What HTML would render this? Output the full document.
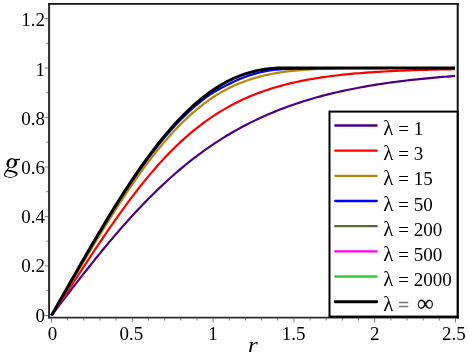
<!DOCTYPE html>
<html><head><meta charset="utf-8"><title>plot</title>
<style>
html,body{margin:0;padding:0;background:#fff;}
body{width:469px;height:357px;overflow:hidden;}
svg{display:block;will-change:transform;}
text{font-family:"Liberation Serif",serif;font-size:19px;fill:#000;}
</style></head><body>
<svg width="469" height="357" viewBox="0 0 469 357" role="img" aria-label="Plot of g versus r for several values of lambda">
<rect width="469" height="357" fill="#fff"/>
<g>
<path d="M51.50 315.40L54.04 312.08L56.58 308.76L59.11 305.44L61.65 302.13L64.19 298.82L66.73 295.51L69.26 292.22L71.80 288.93L74.34 285.65L76.88 282.39L79.42 279.13L81.95 275.89L84.49 272.66L87.03 269.45L89.57 266.25L92.10 263.07L94.64 259.91L97.18 256.77L99.72 253.65L102.25 250.55L104.79 247.48L107.33 244.42L109.87 241.39L112.41 238.39L114.94 235.41L117.48 232.45L120.02 229.53L122.56 226.63L125.09 223.76L127.63 220.92L130.17 218.11L132.71 215.33L135.25 212.58L137.78 209.86L140.32 207.17L142.86 204.51L145.40 201.89L147.93 199.30L150.47 196.74L153.01 194.22L155.55 191.73L158.08 189.27L160.62 186.85L163.16 184.46L165.70 182.11L168.24 179.79L170.77 177.50L173.31 175.25L175.85 173.03L178.39 170.85L180.92 168.71L183.46 166.59L186.00 164.51L188.54 162.47L191.08 160.46L193.61 158.49L196.15 156.54L198.69 154.64L201.23 152.76L203.76 150.92L206.30 149.11L208.84 147.34L211.38 145.59L213.92 143.88L216.45 142.20L218.99 140.56L221.53 138.94L224.07 137.36L226.60 135.80L229.14 134.28L231.68 132.79L234.22 131.32L236.75 129.89L239.29 128.48L241.83 127.10L244.37 125.75L246.91 124.43L249.44 123.14L251.98 121.87L254.52 120.63L257.06 119.41L259.59 118.22L262.13 117.06L264.67 115.92L267.21 114.81L269.75 113.72L272.28 112.65L274.82 111.61L277.36 110.58L279.90 109.59L282.43 108.61L284.97 107.66L287.51 106.72L290.05 105.81L292.58 104.92L295.12 104.05L297.66 103.20L300.20 102.36L302.74 101.55L305.27 100.75L307.81 99.98L310.35 99.22L312.89 98.48L315.42 97.75L317.96 97.05L320.50 96.35L323.04 95.68L325.58 95.02L328.11 94.38L330.65 93.75L333.19 93.13L335.73 92.54L338.26 91.95L340.80 91.38L343.34 90.82L345.88 90.28L348.42 89.74L350.95 89.23L353.49 88.72L356.03 88.22L358.57 87.74L361.10 87.27L363.64 86.81L366.18 86.36L368.72 85.93L371.25 85.50L373.79 85.08L376.33 84.67L378.87 84.28L381.41 83.89L383.94 83.51L386.48 83.14L389.02 82.78L391.56 82.43L394.09 82.09L396.63 81.75L399.17 81.43L401.71 81.11L404.25 80.80L406.78 80.50L409.32 80.20L411.86 79.91L414.40 79.63L416.93 79.36L419.47 79.09L422.01 78.83L424.55 78.57L427.08 78.32L429.62 78.08L432.16 77.84L434.70 77.61L437.24 77.39L439.77 77.17L442.31 76.95L444.85 76.74L447.39 76.54L449.92 76.34L452.46 76.15L455.00 75.96" fill="none" stroke="#4b0082" stroke-width="2.2" stroke-linejoin="round"/>
<path d="M51.50 315.40L54.04 311.63L56.58 307.84L59.11 304.03L61.65 300.21L64.19 296.37L66.73 292.53L69.26 288.68L71.80 284.82L74.34 280.96L76.88 277.09L79.42 273.23L81.95 269.37L84.49 265.52L87.03 261.67L89.57 257.83L92.10 254.00L94.64 250.19L97.18 246.39L99.72 242.61L102.25 238.85L104.79 235.12L107.33 231.41L109.87 227.72L112.41 224.07L114.94 220.44L117.48 216.85L120.02 213.29L122.56 209.77L125.09 206.28L127.63 202.84L130.17 199.43L132.71 196.07L135.25 192.75L137.78 189.48L140.32 186.26L142.86 183.08L145.40 179.95L147.93 176.87L150.47 173.84L153.01 170.86L155.55 167.94L158.08 165.07L160.62 162.25L163.16 159.49L165.70 156.78L168.24 154.12L170.77 151.52L173.31 148.98L175.85 146.49L178.39 144.05L180.92 141.67L183.46 139.35L186.00 137.08L188.54 134.87L191.08 132.71L193.61 130.60L196.15 128.55L198.69 126.55L201.23 124.60L203.76 122.71L206.30 120.86L208.84 119.07L211.38 117.33L213.92 115.63L216.45 113.99L218.99 112.39L221.53 110.84L224.07 109.33L226.60 107.87L229.14 106.46L231.68 105.08L234.22 103.75L236.75 102.47L239.29 101.22L241.83 100.01L244.37 98.84L246.91 97.71L249.44 96.62L251.98 95.56L254.52 94.54L257.06 93.55L259.59 92.60L262.13 91.68L264.67 90.79L267.21 89.93L269.75 89.10L272.28 88.30L274.82 87.53L277.36 86.78L279.90 86.07L282.43 85.37L284.97 84.71L287.51 84.06L290.05 83.44L292.58 82.85L295.12 82.27L297.66 81.72L300.20 81.19L302.74 80.67L305.27 80.18L307.81 79.70L310.35 79.25L312.89 78.81L315.42 78.38L317.96 77.98L320.50 77.59L323.04 77.21L325.58 76.85L328.11 76.50L330.65 76.16L333.19 75.84L335.73 75.53L338.26 75.24L340.80 74.95L343.34 74.68L345.88 74.41L348.42 74.16L350.95 73.92L353.49 73.68L356.03 73.46L358.57 73.25L361.10 73.04L363.64 72.84L366.18 72.65L368.72 72.47L371.25 72.29L373.79 72.12L376.33 71.96L378.87 71.81L381.41 71.66L383.94 71.51L386.48 71.38L389.02 71.24L391.56 71.12L394.09 71.00L396.63 70.88L399.17 70.77L401.71 70.66L404.25 70.56L406.78 70.46L409.32 70.37L411.86 70.27L414.40 70.19L416.93 70.10L419.47 70.02L422.01 69.95L424.55 69.87L427.08 69.80L429.62 69.73L432.16 69.67L434.70 69.61L437.24 69.55L439.77 69.49L442.31 69.43L444.85 69.38L447.39 69.33L449.92 69.28L452.46 69.23L455.00 69.19" fill="none" stroke="#ff0000" stroke-width="2.2" stroke-linejoin="round"/>
<path d="M51.50 315.40L54.04 311.17L56.58 306.93L59.11 302.69L61.65 298.43L64.19 294.17L66.73 289.91L69.26 285.64L71.80 281.37L74.34 277.11L76.88 272.85L79.42 268.59L81.95 264.34L84.49 260.10L87.03 255.87L89.57 251.65L92.10 247.45L94.64 243.26L97.18 239.09L99.72 234.94L102.25 230.82L104.79 226.72L107.33 222.64L109.87 218.60L112.41 214.58L114.94 210.59L117.48 206.64L120.02 202.73L122.56 198.85L125.09 195.02L127.63 191.22L130.17 187.47L132.71 183.76L135.25 180.10L137.78 176.49L140.32 172.93L142.86 169.42L145.40 165.96L147.93 162.56L150.47 159.22L153.01 155.93L155.55 152.71L158.08 149.54L160.62 146.44L163.16 143.40L165.70 140.42L168.24 137.51L170.77 134.66L173.31 131.88L175.85 129.17L178.39 126.53L180.92 123.95L183.46 121.45L186.00 119.01L188.54 116.64L191.08 114.35L193.61 112.12L196.15 109.96L198.69 107.87L201.23 105.85L203.76 103.90L206.30 102.02L208.84 100.21L211.38 98.46L213.92 96.78L216.45 95.17L218.99 93.62L221.53 92.13L224.07 90.71L226.60 89.35L229.14 88.05L231.68 86.80L234.22 85.62L236.75 84.49L239.29 83.42L241.83 82.40L244.37 81.43L246.91 80.52L249.44 79.65L251.98 78.83L254.52 78.05L257.06 77.32L259.59 76.63L262.13 75.99L264.67 75.38L267.21 74.81L269.75 74.27L272.28 73.77L274.82 73.31L277.36 72.87L279.90 72.46L282.43 72.08L284.97 71.73L287.51 71.41L290.05 71.11L292.58 70.83L295.12 70.57L297.66 70.33L300.20 70.11L302.74 69.91L305.27 69.73L307.81 69.56L310.35 69.40L312.89 69.26L315.42 69.13L317.96 69.01L320.50 68.91L323.04 68.81L325.58 68.72L328.11 68.64L330.65 68.57L333.19 68.51L335.73 68.45L338.26 68.40L340.80 68.35L343.34 68.31L345.88 68.27L348.42 68.24L350.95 68.21L353.49 68.18L356.03 68.16L358.57 68.14L361.10 68.12L363.64 68.10L366.18 68.09L368.72 68.08L371.25 68.07L373.79 68.06L376.33 68.05L378.87 68.04L381.41 68.04L383.94 68.03L386.48 68.03L389.02 68.02L391.56 68.02L394.09 68.02L396.63 68.01L399.17 68.01L401.71 68.01L404.25 68.01L406.78 68.01L409.32 68.01L411.86 68.00L414.40 68.00L416.93 68.00L419.47 68.00L422.01 68.00L424.55 68.00L427.08 68.00L429.62 68.00L432.16 68.00L434.70 68.00L437.24 68.00L439.77 68.00L442.31 68.00L444.85 68.00L447.39 68.00L449.92 68.00L452.46 68.00L455.00 68.00" fill="none" stroke="#b8860b" stroke-width="2.2" stroke-linejoin="round"/>
<path d="M51.50 315.40L54.04 310.99L56.58 306.57L59.11 302.14L61.65 297.72L64.19 293.29L66.73 288.86L69.26 284.43L71.80 280.00L74.34 275.59L76.88 271.18L79.42 266.77L81.95 262.39L84.49 258.01L87.03 253.65L89.57 249.31L92.10 244.99L94.64 240.68L97.18 236.41L99.72 232.15L102.25 227.93L104.79 223.73L107.33 219.57L109.87 215.44L112.41 211.34L114.94 207.28L117.48 203.26L120.02 199.28L122.56 195.34L125.09 191.44L127.63 187.59L130.17 183.79L132.71 180.03L135.25 176.32L137.78 172.66L140.32 169.06L142.86 165.51L145.40 162.01L147.93 158.57L150.47 155.19L153.01 151.86L155.55 148.59L158.08 145.38L160.62 142.24L163.16 139.15L165.70 136.13L168.24 133.18L170.77 130.29L173.31 127.46L175.85 124.71L178.39 122.02L180.92 119.40L183.46 116.86L186.00 114.38L188.54 111.98L191.08 109.65L193.61 107.40L196.15 105.21L198.69 103.11L201.23 101.07L203.76 99.11L206.30 97.23L208.84 95.42L211.38 93.70L213.92 92.10L216.45 90.60L218.99 89.18L221.53 87.83L224.07 86.53L226.60 85.25L229.14 83.98L231.68 82.73L234.22 81.52L236.75 80.36L239.29 79.25L241.83 78.20L244.37 77.20L246.91 76.27L249.44 75.41L251.98 74.60L254.52 73.85L257.06 73.14L259.59 72.48L262.13 71.88L264.67 71.33L267.21 70.85L269.75 70.43L272.28 70.08L274.82 69.78L277.36 69.53L279.90 69.34L282.43 69.20L284.97 69.08L287.51 68.97L290.05 68.87L292.58 68.78L295.12 68.71L297.66 68.63L300.20 68.56L302.74 68.50L305.27 68.43L307.81 68.38L310.35 68.32L312.89 68.28L315.42 68.23L317.96 68.20L320.50 68.17L323.04 68.14L325.58 68.11L328.11 68.08L330.65 68.06L333.19 68.04L335.73 68.02L338.26 68.01L340.80 68.00L343.34 68.00L345.88 68.00L348.42 68.00L350.95 68.00L353.49 68.00L356.03 68.00L358.57 68.00L361.10 68.00L363.64 68.00L366.18 68.00L368.72 68.00L371.25 68.00L373.79 68.00L376.33 68.00L378.87 68.00L381.41 68.00L383.94 68.00L386.48 68.00L389.02 68.00L391.56 68.00L394.09 68.00L396.63 68.00L399.17 68.00L401.71 68.00L404.25 68.00L406.78 68.00L409.32 68.00L411.86 68.00L414.40 68.00L416.93 68.00L419.47 68.00L422.01 68.00L424.55 68.00L427.08 68.00L429.62 68.00L432.16 68.00L434.70 68.00L437.24 68.00L439.77 68.00L442.31 68.00L444.85 68.00L447.39 68.00L449.92 68.00L452.46 68.00L455.00 68.00" fill="none" stroke="#0000ff" stroke-width="2.2" stroke-linejoin="round"/>
<path d="M51.50 315.40L54.04 310.97L56.58 306.53L59.11 302.08L61.65 297.63L64.19 293.18L66.73 288.73L69.26 284.27L71.80 279.82L74.34 275.38L76.88 270.94L79.42 266.52L81.95 262.10L84.49 257.70L87.03 253.31L89.57 248.94L92.10 244.59L94.64 240.25L97.18 235.95L99.72 231.66L102.25 227.40L104.79 223.18L107.33 218.98L109.87 214.81L112.41 210.68L114.94 206.58L117.48 202.52L120.02 198.50L122.56 194.52L125.09 190.59L127.63 186.70L130.17 182.85L132.71 179.05L135.25 175.30L137.78 171.60L140.32 167.96L142.86 164.36L145.40 160.82L147.93 157.34L150.47 153.92L153.01 150.55L155.55 147.24L158.08 143.99L160.62 140.81L163.16 137.69L165.70 134.63L168.24 131.64L170.77 128.71L173.31 125.85L175.85 123.05L178.39 120.33L180.92 117.67L183.46 115.08L186.00 112.56L188.54 110.11L191.08 107.73L193.61 105.43L196.15 103.19L198.69 101.02L201.23 98.93L203.76 96.91L206.30 94.96L208.84 93.08L211.38 91.27L213.92 89.54L216.45 87.87L218.99 86.28L221.53 84.76L224.07 83.31L226.60 81.93L229.14 80.62L231.68 79.38L234.22 78.20L236.75 77.10L239.29 76.06L241.83 75.09L244.37 74.19L246.91 73.35L249.44 72.58L251.98 71.87L254.52 71.23L257.06 70.64L259.59 70.12L262.13 69.66L264.67 69.26L267.21 68.91L269.75 68.63L272.28 68.39L274.82 68.22L277.36 68.09L279.90 68.02L282.43 68.00L284.97 68.00L287.51 68.00L290.05 68.00L292.58 68.00L295.12 68.00L297.66 68.00L300.20 68.00L302.74 68.00L305.27 68.00L307.81 68.00L310.35 68.00L312.89 68.00L315.42 68.00L317.96 68.00L320.50 68.00L323.04 68.00L325.58 68.00L328.11 68.00L330.65 68.00L333.19 68.00L335.73 68.00L338.26 68.00L340.80 68.00L343.34 68.00L345.88 68.00L348.42 68.00L350.95 68.00L353.49 68.00L356.03 68.00L358.57 68.00L361.10 68.00L363.64 68.00L366.18 68.00L368.72 68.00L371.25 68.00L373.79 68.00L376.33 68.00L378.87 68.00L381.41 68.00L383.94 68.00L386.48 68.00L389.02 68.00L391.56 68.00L394.09 68.00L396.63 68.00L399.17 68.00L401.71 68.00L404.25 68.00L406.78 68.00L409.32 68.00L411.86 68.00L414.40 68.00L416.93 68.00L419.47 68.00L422.01 68.00L424.55 68.00L427.08 68.00L429.62 68.00L432.16 68.00L434.70 68.00L437.24 68.00L439.77 68.00L442.31 68.00L444.85 68.00L447.39 68.00L449.92 68.00L452.46 68.00L455.00 68.00" fill="none" stroke="#000000" stroke-width="3.0" stroke-linejoin="round"/>
</g>
<g stroke="#808080" stroke-width="1">
<line x1="44.5" y1="315.4" x2="48.5" y2="315.4"/>
<line x1="46.2" y1="290.7" x2="48.5" y2="290.7"/>
<line x1="44.5" y1="265.9" x2="48.5" y2="265.9"/>
<line x1="46.2" y1="241.2" x2="48.5" y2="241.2"/>
<line x1="44.5" y1="216.4" x2="48.5" y2="216.4"/>
<line x1="46.2" y1="191.7" x2="48.5" y2="191.7"/>
<line x1="44.5" y1="167.0" x2="48.5" y2="167.0"/>
<line x1="46.2" y1="142.2" x2="48.5" y2="142.2"/>
<line x1="44.5" y1="117.5" x2="48.5" y2="117.5"/>
<line x1="46.2" y1="92.7" x2="48.5" y2="92.7"/>
<line x1="44.5" y1="68.0" x2="48.5" y2="68.0"/>
<line x1="46.2" y1="43.3" x2="48.5" y2="43.3"/>
<line x1="44.5" y1="18.5" x2="48.5" y2="18.5"/>
<line x1="51.5" y1="318.3" x2="51.5" y2="322.5"/>
<line x1="67.7" y1="318.3" x2="67.7" y2="320.6"/>
<line x1="83.8" y1="318.3" x2="83.8" y2="320.6"/>
<line x1="100.0" y1="318.3" x2="100.0" y2="320.6"/>
<line x1="116.1" y1="318.3" x2="116.1" y2="320.6"/>
<line x1="132.3" y1="318.3" x2="132.3" y2="322.5"/>
<line x1="148.5" y1="318.3" x2="148.5" y2="320.6"/>
<line x1="164.6" y1="318.3" x2="164.6" y2="320.6"/>
<line x1="180.8" y1="318.3" x2="180.8" y2="320.6"/>
<line x1="196.9" y1="318.3" x2="196.9" y2="320.6"/>
<line x1="213.1" y1="318.3" x2="213.1" y2="322.5"/>
<line x1="229.3" y1="318.3" x2="229.3" y2="320.6"/>
<line x1="245.4" y1="318.3" x2="245.4" y2="320.6"/>
<line x1="261.6" y1="318.3" x2="261.6" y2="320.6"/>
<line x1="277.7" y1="318.3" x2="277.7" y2="320.6"/>
<line x1="293.9" y1="318.3" x2="293.9" y2="322.5"/>
<line x1="310.1" y1="318.3" x2="310.1" y2="320.6"/>
<line x1="326.2" y1="318.3" x2="326.2" y2="320.6"/>
<line x1="342.4" y1="318.3" x2="342.4" y2="320.6"/>
<line x1="358.5" y1="318.3" x2="358.5" y2="320.6"/>
<line x1="374.7" y1="318.3" x2="374.7" y2="322.5"/>
<line x1="390.9" y1="318.3" x2="390.9" y2="320.6"/>
<line x1="407.0" y1="318.3" x2="407.0" y2="320.6"/>
<line x1="423.2" y1="318.3" x2="423.2" y2="320.6"/>
<line x1="439.3" y1="318.3" x2="439.3" y2="320.6"/>
<line x1="455.5" y1="318.3" x2="455.5" y2="322.5"/>
</g>
<g stroke="#2a2a2a" stroke-width="2" fill="none">
<line x1="49.1" y1="3" x2="49.1" y2="318.5"/>
<line x1="48.25" y1="317.6" x2="458.7" y2="317.6" stroke-width="1.9"/>
<line x1="457.7" y1="3" x2="457.7" y2="318.5" stroke="#111"/>
<line x1="48.25" y1="3.85" x2="458.7" y2="3.85" stroke-width="1.7" stroke="#111"/>
</g>
<rect x="329.5" y="111.6" width="128.1" height="205.0" fill="#fff" stroke="#000" stroke-width="2"/>
<line x1="335.2" y1="125.5" x2="376.7" y2="125.5" stroke="#4b0082" stroke-width="2.3" stroke-linecap="round"/>
<text y="135.0"><tspan x="383.2" style="font-size:21px">λ</tspan> <tspan x="398.2">= 1</tspan></text>
<line x1="335.2" y1="150.7" x2="376.7" y2="150.7" stroke="#ff0000" stroke-width="2.3" stroke-linecap="round"/>
<text y="160.2"><tspan x="383.2" style="font-size:21px">λ</tspan> <tspan x="398.2">= 3</tspan></text>
<line x1="335.2" y1="175.8" x2="376.7" y2="175.8" stroke="#b8860b" stroke-width="2.3" stroke-linecap="round"/>
<text y="185.3"><tspan x="383.2" style="font-size:21px">λ</tspan> <tspan x="398.2">= 15</tspan></text>
<line x1="335.2" y1="201.0" x2="376.7" y2="201.0" stroke="#0000ff" stroke-width="2.3" stroke-linecap="round"/>
<text y="210.5"><tspan x="383.2" style="font-size:21px">λ</tspan> <tspan x="398.2">= 50</tspan></text>
<line x1="335.2" y1="226.2" x2="376.7" y2="226.2" stroke="#556b2f" stroke-width="2.3" stroke-linecap="round"/>
<text y="235.7"><tspan x="383.2" style="font-size:21px">λ</tspan> <tspan x="398.2">= 200</tspan></text>
<line x1="335.2" y1="251.4" x2="376.7" y2="251.4" stroke="#ff00ff" stroke-width="2.3" stroke-linecap="round"/>
<text y="260.9"><tspan x="383.2" style="font-size:21px">λ</tspan> <tspan x="398.2">= 500</tspan></text>
<line x1="335.2" y1="276.5" x2="376.7" y2="276.5" stroke="#32cd32" stroke-width="2.3" stroke-linecap="round"/>
<text y="286.0"><tspan x="383.2" style="font-size:21px">λ</tspan> <tspan x="398.2">= 2000</tspan></text>
<line x1="335.2" y1="301.7" x2="376.7" y2="301.7" stroke="#000000" stroke-width="2.9" stroke-linecap="round"/>
<text y="311.2"><tspan x="383.2" style="font-size:21px">λ</tspan> <tspan x="398.2" style="fill:#777;stroke:#777;stroke-width:0.5px">=</tspan> <tspan x="417.1" dy="-0.7" style="font-size:23.5px;stroke:#000;stroke-width:0.2px">∞</tspan></text>
<g>
<text x="45.0" y="321.8" text-anchor="end">0</text>
<text x="45.0" y="272.4" text-anchor="end">0.2</text>
<text x="45.0" y="223.0" text-anchor="end">0.4</text>
<text x="45.0" y="173.9" text-anchor="end">0.6</text>
<text x="45.0" y="124.8" text-anchor="end">0.8</text>
<text x="45.0" y="75.7" text-anchor="end">1</text>
<text x="45.0" y="25.5" text-anchor="end">1.2</text>
<text x="52.4" y="339.7" text-anchor="middle">0</text>
<text x="131.3" y="339.7" text-anchor="middle">0.5</text>
<text x="213.1" y="339.7" text-anchor="middle">1</text>
<text x="293.6" y="339.7" text-anchor="middle">1.5</text>
<text x="374.7" y="339.7" text-anchor="middle">2</text>
<text x="465.8" y="339.7" text-anchor="end">2.5</text>
</g>
<g aria-label="g" transform="translate(0,150) scale(0.08953)" fill="#000"><title>g</title>
<path fill-rule="evenodd" d="M131 93 C170 93 192 118 190 146 C188 178 160 203 125 203 C90 203 70 182 73 152 C76 120 100 93 131 93 Z M135 102 C116 102 101 128 99 156 C97 180 106 195 122 195 C142 195 158 172 161 142 C163 118 154 102 135 102 Z"/>
<path d="M165 100 L222 98 L222 113 L180 116 Z"/>
<path d="M97 193 L105 198 L82 230 L72 225 Z"/>
<path fill-rule="evenodd" d="M72 222 C95 218 190 232 196 262 C200 290 150 310 105 310 C65 310 42 295 45 275 C47 255 62 232 72 222 Z M78 238 C70 248 58 262 58 276 C58 294 85 301 110 301 C150 301 178 288 176 270 C174 254 110 243 78 238 Z"/>
</g>
<text transform="translate(247.9,351.6) scale(1.16,1)" style="font-style:italic;font-size:21.5px">r</text>
</svg>
</body></html>
